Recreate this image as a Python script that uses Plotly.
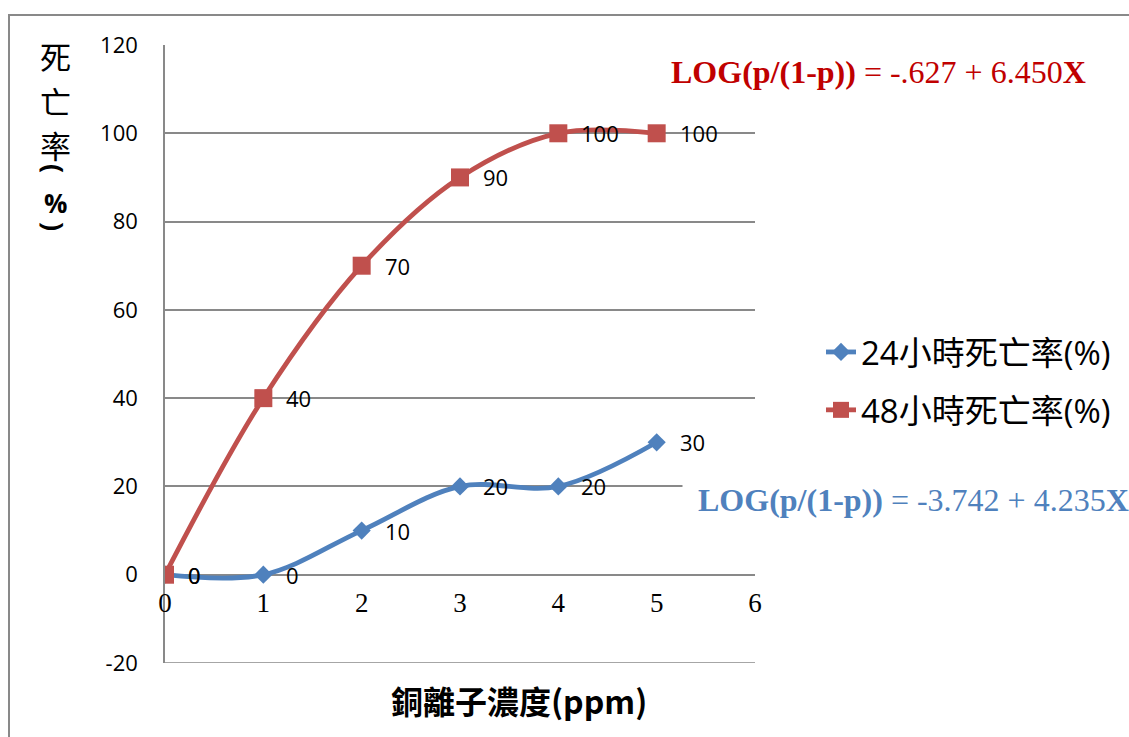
import plotly.graph_objects as go

# Copper ion concentration (ppm) and mortality (%) after 24 h and 48 h
conc = [0, 1, 2, 3, 4, 5]
mort_24h = [0, 0, 10, 20, 20, 30]
mort_48h = [0, 40, 70, 90, 100, 100]

series_names = ["24小時死亡率(%)", "48小時死亡率(%)"]
eq_48h = ("LOG(p/(1-p))", " = -.627 + 6.450", "X")
eq_24h = ("LOG(p/(1-p))", " = -3.742 + 4.235", "X")

x_ticks = [0, 1, 2, 3, 4, 5, 6]
y_ticks = [-20, 0, 20, 40, 60, 80, 100, 120]
x_range = [0, 6]
y_range = [-20, 120]

W, H = 1129, 737
L, R, T, B = 165, 374, 45, 74
BLUE = "#4F81BD"
RED = "#C0504D"
GRID = "#898989"
LABEL_FONT = "Open Sans, Noto Sans CJK TC, sans-serif"
CJK_FONT = "Noto Sans CJK TC, sans-serif"
SERIF = "Liberation Serif, Times New Roman, serif"
EQ_PAD = 15


def px(x):
    """pixel column -> paper x"""
    return (x - L) / (W - L - R)


def py(y):
    """pixel row -> paper y"""
    return (H - B - y) / (H - T - B)


fig = go.Figure()

fig.add_trace(go.Scatter(
    x=conc, y=mort_24h, name=series_names[0], mode="lines+markers",
    line=dict(color=BLUE, width=4.8, shape="spline", smoothing=1.0),
    marker=dict(symbol="diamond", size=14, color=BLUE),
    legendgroup="a",
))
fig.add_trace(go.Scatter(
    x=conc, y=mort_48h, name=series_names[1], mode="lines+markers",
    line=dict(color=RED, width=4.8, shape="spline", smoothing=1.0),
    marker=dict(symbol="square", size=18, color=RED),
    legendgroup="b",
))

annotations = []

# data labels to the right of each point
for vals in (mort_24h, mort_48h):
    for xv, yv in zip(conc, vals):
        annotations.append(dict(
            x=xv, y=yv, xref="x", yref="y", text=str(yv), showarrow=False,
            xanchor="left", yanchor="middle", xshift=21,
            font=dict(family=LABEL_FONT, size=22, color="#000000"),
        ))

# vertical y-axis title, one glyph per row
for ch, yc, size, bold, angle in [
    ("死", 56, 31, False, 0),
    ("亡", 100, 31, False, 0),
    ("率", 145, 31, False, 0),
    ("(", 168, 27, True, 90),
    ("%", 203, 26, True, 0),
    (")", 226, 27, True, 90),
]:
    annotations.append(dict(
        x=px(55), y=py(yc), xref="paper", yref="paper",
        text=f"<b>{ch}</b>" if bold else ch, showarrow=False,
        xanchor="center", yanchor="middle", textangle=angle,
        font=dict(family=CJK_FONT if not bold else LABEL_FONT, size=size, color="#000000"),
    ))

# x-axis title
annotations.append(dict(
    x=px(519), y=py(700), xref="paper", yref="paper",
    text="<b>銅離子濃度(ppm)</b>", showarrow=False,
    xanchor="center", yanchor="middle",
    font=dict(family="Noto Sans CJK TC, Open Sans, sans-serif", size=32, color="#000000"),
))

# regression equations in white text boxes
for eq, color, xl, yc in [(eq_48h, "#C00000", 670, 72), (eq_24h, BLUE, 697, 500)]:
    annotations.append(dict(
        x=px(xl - EQ_PAD), y=py(yc), xref="paper", yref="paper",
        text=f"<b>{eq[0]}</b>{eq[1]}<b>{eq[2]}</b>", showarrow=False,
        xanchor="left", yanchor="middle", bgcolor="#FFFFFF", borderpad=EQ_PAD,
        font=dict(family=SERIF, size=32, color=color),
    ))

shapes = [
    # outer chart frame (left and top edges)
    dict(
        type="path", xref="paper", yref="paper",
        path=f"M {px(9)},{py(760)} L {px(9)},{py(15)} L {px(1140)},{py(15)}",
        line=dict(color=GRID, width=2),
    ),
    # bottom gridline at the minimum of the value axis
    dict(
        type="line", xref="x", yref="y",
        x0=x_range[0], x1=x_range[1], y0=y_range[0], y1=y_range[0],
        line=dict(color=GRID, width=1.5), layer="below",
    ),
]

fig.update_layout(
    width=W, height=H,
    margin=dict(l=L, r=R, t=T, b=B, pad=0),
    paper_bgcolor="#FFFFFF", plot_bgcolor="#FFFFFF",
    annotations=annotations, shapes=shapes,
    showlegend=True,
    legend=dict(
        x=px(821), y=py(324), xref="paper", yref="paper",
        xanchor="left", yanchor="top",
        font=dict(family=LABEL_FONT, size=33, color="#000000"),
        tracegroupgap=12, bgcolor="rgba(0,0,0,0)",
    ),
    xaxis=dict(
        range=x_range, tickvals=x_ticks, ticktext=[str(v) for v in x_ticks],
        showgrid=False, zeroline=False, showline=False,
        anchor="free", position=(0 - y_range[0]) / (y_range[1] - y_range[0]),
        ticks="outside", ticklen=4, tickcolor="rgba(0,0,0,0)",
        tickfont=dict(family=SERIF, size=27, color="#000000"),
    ),
    yaxis=dict(
        range=y_range, tickvals=y_ticks, ticktext=[str(v) for v in y_ticks],
        showgrid=True, gridcolor=GRID, gridwidth=1.5,
        zeroline=True, zerolinecolor=GRID, zerolinewidth=1.5,
        showline=True, linecolor=GRID, linewidth=1.5,
        ticks="outside", ticklen=21, tickcolor="rgba(0,0,0,0)",
        tickfont=dict(family=LABEL_FONT, size=22, color="#000000"),
    ),
)

fig.write_html("out.html")
